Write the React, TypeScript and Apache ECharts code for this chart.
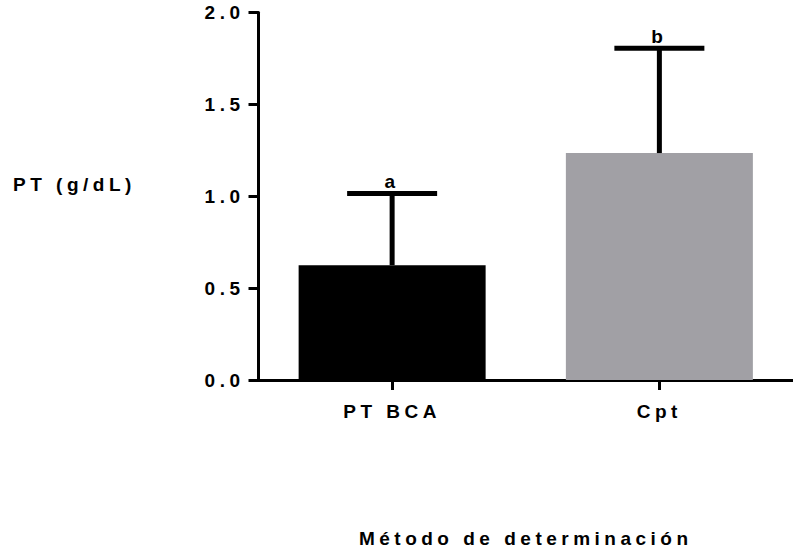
import React, { useEffect, useRef } from "react";
import * as echarts from "echarts";

const categories = ["PT BCA", "Cpt"];
const means = [0.625, 1.235];
const sds = [0.39, 0.57];
const sigLetters = ["a", "b"];
const barColors = ["#000000", "#a1a0a5"];
const yTicks = [0, 0.5, 1.0, 1.5, 2.0];
const yTitle = "PT (g/dL)";
const xTitle = "Método de determinación";

const FONT = "'Liberation Sans', Arial, Helvetica, sans-serif";
const FS = 19;

export default function App() {
  const ref = useRef<HTMLDivElement>(null);
  useEffect(() => {
    document.body.style.margin = "0";
    if (!ref.current) return;
    const chart = echarts.init(ref.current, undefined, { renderer: "svg" });
    const textBase = { fontFamily: FONT, fontWeight: "bold" as const, fontSize: FS, color: "#000" };
    chart.setOption({
      animation: false,
      backgroundColor: "#ffffff",
      grid: { left: 258.5, top: 12.5, width: 546, height: 368, containLabel: false },
      xAxis: {
        type: "category",
        data: categories,
        boundaryGap: true,
        name: xTitle,
        nameLocation: "middle",
        nameGap: 149,
        nameTextStyle: { ...textBase },
        axisLine: { show: true, lineStyle: { color: "#000", width: 3 } },
        axisTick: { show: true, alignWithLabel: true, length: 10, lineStyle: { color: "#000", width: 3 } },
        axisLabel: { ...textBase, margin: 22 },
        splitLine: { show: false },
      },
      yAxis: {
        type: "value",
        min: yTicks[0],
        max: yTicks[yTicks.length - 1],
        interval: 0.5,
        axisLine: { show: true, lineStyle: { color: "#000", width: 3 } },
        axisTick: { show: true, length: 10, lineStyle: { color: "#000", width: 3 } },
        axisLabel: {
          ...textBase,
          margin: 14,
          padding: [6, 0, 0, 0],
          formatter: (v: number) => v.toFixed(1),
        },
        splitLine: { show: false },
      },
      graphic: [
        {
          type: "text",
          left: 13,
          top: 175,
          style: { text: yTitle, font: `bold ${FS}px ${FONT}`, fill: "#000" },
        },
      ],
      series: [
        {
          type: "bar",
          barWidth: 187,
          data: means.map((m, i) => ({ value: m, itemStyle: { color: barColors[i] } })),
          z: 2,
        },
        {
          type: "custom",
          z: 3,
          data: means.map((m, i) => [i, m, m + sds[i]]),
          renderItem: (params: any, api: any) => {
            const idx = api.value(0);
            const base = api.coord([idx, api.value(1)]);
            const top = api.coord([idx, api.value(2)]);
            const half = 45;
            return {
              type: "group",
              children: [
                {
                  type: "line",
                  shape: { x1: base[0], y1: base[1], x2: top[0], y2: top[1] },
                  style: { stroke: "#000", lineWidth: 5 },
                },
                {
                  type: "line",
                  shape: { x1: top[0] - half, y1: top[1], x2: top[0] + half, y2: top[1] },
                  style: { stroke: "#000", lineWidth: 5 },
                },
                {
                  type: "text",
                  x: top[0],
                  y: top[1] - 2,
                  style: {
                    text: sigLetters[params.dataIndex],
                    font: `bold ${FS}px ${FONT}`,
                    fill: "#000",
                    align: "center",
                    verticalAlign: "bottom",
                  },
                },
              ],
            };
          },
        },
      ],
    });
    return () => chart.dispose();
  }, []);
  return <div ref={ref} style={{ width: 793, height: 553, letterSpacing: "4.5px" }} />;
}
